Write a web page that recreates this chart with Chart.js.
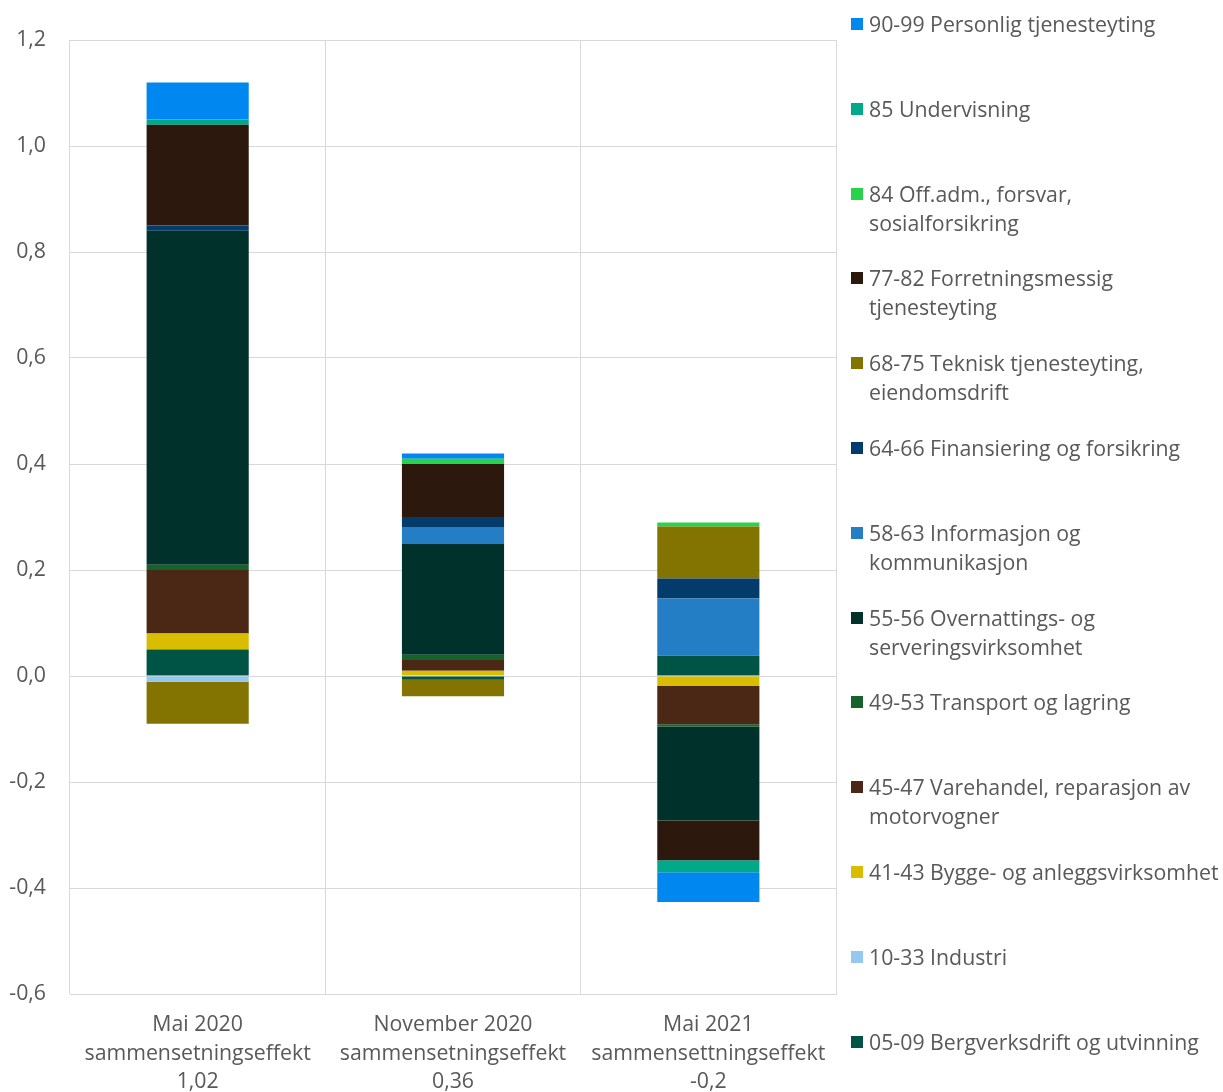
<!DOCTYPE html>
<html>
<head>
<meta charset="utf-8">
<script src="https://cdn.jsdelivr.net/npm/chart.js@4"></script>
<style>
  body { margin: 0; background: #fff; font-family: "Open Sans", sans-serif; }
  #wrap { position: relative; width: 1223px; height: 1092px; }
  #legend { position: absolute; left: 851px; top: 0; width: 372px; }
  .item { position: absolute; left: 0; display: flex; align-items: flex-start; color: #595959; font-size: 21.3px; line-height: 29px; white-space: nowrap; }
  .sw { width: 12px; height: 12px; margin-top: 9px; margin-right: 6px; flex: none; }
</style>
</head>
<body>
<div id="wrap">
  <canvas id="bar-chart" width="1223" height="1092"></canvas>
  <div id="legend"></div>
</div>
<script>
  // Categories (multi-line x labels)
  const categories = [
    ['Mai 2020', 'sammensetningseffekt', '1,02'],
    ['November 2020', 'sammensetningseffekt', '0,36'],
    ['Mai 2021', 'sammensettningseffekt', '-0,2']
  ];

  // Series values, stacking order bottom -> top
  const s0509 = [0.05, -0.007, 0.038];
  const s1033 = [-0.011, 0, 0];
  const s4143 = [0.03, 0.01, -0.019];
  const s4547 = [0.12, 0.02, -0.072];
  const s4953 = [0.01, 0.01, -0.0045];
  const s5556 = [0.63, 0.21, -0.177];
  const s5863 = [0, 0.031, 0.108];
  const s6466 = [0.01, 0.019, 0.038];
  const s6875 = [-0.079, -0.031, 0.098];
  const s7782 = [0.19, 0.10, -0.075];
  const s84 = [0, 0.01, 0.0075];
  const s85 = [0.01, 0, -0.023];
  const s9099 = [0.07, 0.01, -0.056];

  const seriesNames = [
    ['05-09 Bergverksdrift og utvinning'],
    ['10-33 Industri'],
    ['41-43 Bygge- og anleggsvirksomhet'],
    ['45-47 Varehandel, reparasjon av', 'motorvogner'],
    ['49-53 Transport og lagring'],
    ['55-56 Overnattings- og', 'serveringsvirksomhet'],
    ['58-63 Informasjon og', 'kommunikasjon'],
    ['64-66 Finansiering og forsikring'],
    ['68-75 Teknisk tjenesteyting,', 'eiendomsdrift'],
    ['77-82 Forretningsmessig', 'tjenesteyting'],
    ['84 Off.adm., forsvar,', 'sosialforsikring'],
    ['85 Undervisning'],
    ['90-99 Personlig tjenesteyting']
  ];
  const seriesValues = [s0509, s1033, s4143, s4547, s4953, s5556, s5863, s6466, s6875, s7782, s84, s85, s9099];
  const seriesColors = ['#005446', '#95c8ee', '#d9bd00', '#4a2815', '#15622b', '#00312a',
    '#237ec6', '#033b6a', '#837300', '#2c180d', '#27d34a', '#00a98a', '#0088f0'];

  const data_bar = {
    labels: categories,
    datasets: seriesValues.map((vals, i) => ({
      label: seriesNames[i].join(' '),
      data: vals,
      backgroundColor: seriesColors[i],
      borderWidth: 0,
      categoryPercentage: 1,
      barPercentage: 0.4
    }))
  };

  const config_bar = {
    type: 'bar',
    data: data_bar,
    options: {
      responsive: false,
      animation: false,
      layout: { padding: { top: 40, right: 387, left: 4, bottom: 0 } },
      plugins: { legend: { display: false }, tooltip: { enabled: false } },
      scales: {
        x: {
          stacked: true,
          grid: { color: '#d9d9d9', lineWidth: 1, drawTicks: false },
          border: { color: '#d9d9d9' },
          afterFit: s => { s.height = 98; },
          ticks: {
            color: '#595959', padding: 16, maxRotation: 0,
            font: { family: 'Open Sans', size: 21.3, lineHeight: 1.36 }
          }
        },
        y: {
          stacked: true,
          min: -0.6, max: 1.2,
          grid: { color: '#d9d9d9', lineWidth: 1, drawTicks: false },
          border: { display: false },
          afterFit: s => { s.width = 66; },
          ticks: {
            stepSize: 0.2, padding: 24, color: '#595959',
            font: { family: 'Open Sans', size: 21.3 },
            callback: v => v.toFixed(1).replace('.', ',')
          }
        }
      }
    }
  };

  const canvas_bar = document.getElementById('bar-chart');
  const barChart = new Chart(canvas_bar, config_bar);

  // HTML legend, top item = last dataset
  const legend = document.getElementById('legend');
  for (let k = 0; k < seriesNames.length; k++) {
    const i = seriesNames.length - 1 - k;
    const div = document.createElement('div');
    div.className = 'item';
    div.style.top = (9 + k * 84.8) + 'px';
    div.innerHTML = '<span class="sw" style="background:' + seriesColors[i] + '"></span><span>' +
      seriesNames[i].join('<br>') + '</span>';
    legend.appendChild(div);
  }
</script>
</body>
</html>
